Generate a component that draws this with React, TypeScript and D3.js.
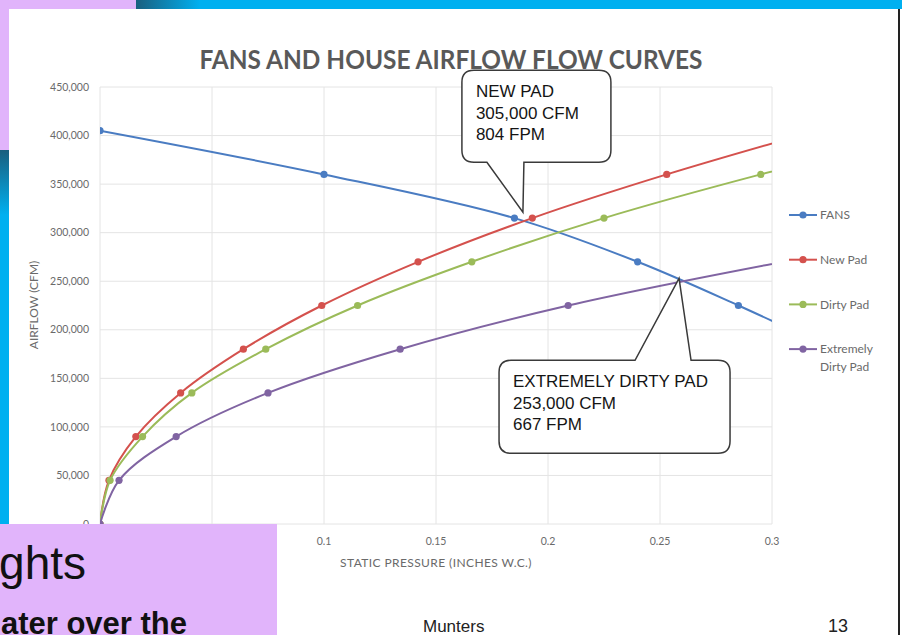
import React from 'react';
import * as d3 from 'd3';

// static pressure (inches w.c.) and airflow (cfm)
const fansPressure = [0, 0.1, 0.185, 0.24, 0.285, 0.327];
const fansAirflow = [405000, 360000, 315000, 270000, 225000, 180000];

const newPadPressure = [0, 0.004, 0.016, 0.036, 0.064, 0.099, 0.142, 0.193, 0.253, 0.32];
const newPadAirflow = [0, 45000, 90000, 135000, 180000, 225000, 270000, 315000, 360000, 405000];

const dirtyPadPressure = [0, 0.0045, 0.019, 0.041, 0.074, 0.115, 0.166, 0.225, 0.295, 0.373];
const dirtyPadAirflow = [0, 45000, 90000, 135000, 180000, 225000, 270000, 315000, 360000, 405000];

const extremePadPressure = [0, 0.0085, 0.034, 0.075, 0.134, 0.209, 0.305];
const extremePadAirflow = [0, 45000, 90000, 135000, 180000, 225000, 270000];

const seriesNames = ['FANS', 'New Pad', 'Dirty Pad', 'Extremely Dirty Pad'];
const seriesColors = ['#4a7cc2', '#d4514d', '#9bbb59', '#8064a2'];

const xTicks = [0, 0.05, 0.1, 0.15, 0.2, 0.25, 0.3];
const yTicks = [0, 50000, 100000, 150000, 200000, 250000, 300000, 350000, 400000, 450000];

const chartTitle = 'FANS AND HOUSE AIRFLOW FLOW CURVES';
const xTitle = 'STATIC PRESSURE (INCHES W.C.)';
const yTitle = 'AIRFLOW (CFM)';

// callouts: where the pointer lands (data units) and what they say
const newPadTip = { p: 0.1888, q: 321000 };
const newPadLines = ['NEW PAD', '305,000 CFM', '804 FPM'];
const extremeTip = { p: 0.2585, q: 253000 };
const extremeLines = ['EXTREMELY DIRTY PAD', '253,000 CFM', '667 FPM'];

const W = 902;
const H = 635;
const plot = { left: 100, right: 772, top: 87, bottom: 524 };
const chartFont = 'Lato, "Open Sans", sans-serif';
const calloutFont = '"Liberation Sans", Arial, sans-serif';

const series = [
  d3.zip(fansPressure, fansAirflow),
  d3.zip(newPadPressure, newPadAirflow),
  d3.zip(dirtyPadPressure, dirtyPadAirflow),
  d3.zip(extremePadPressure, extremePadAirflow),
];

// rounded box with a pointer on the bottom or top edge
function calloutPath(
  b: { x: number; y: number; w: number; h: number },
  base: [number, number],
  tip: [number, number],
  side: 'top' | 'bottom'
) {
  const r = 12;
  const { x, y, w, h } = b;
  if (side === 'bottom') {
    return `M${x + r},${y} H${x + w - r} Q${x + w},${y} ${x + w},${y + r} V${y + h - r} Q${x + w},${y + h} ${x + w - r},${y + h}
      H${base[1]} L${tip[0]},${tip[1]} L${base[0]},${y + h} H${x + r} Q${x},${y + h} ${x},${y + h - r} V${y + r} Q${x},${y} ${x + r},${y} Z`;
  }
  return `M${x + r},${y} H${base[0]} L${tip[0]},${tip[1]} L${base[1]},${y} H${x + w - r} Q${x + w},${y} ${x + w},${y + r} V${y + h - r}
    Q${x + w},${y + h} ${x + w - r},${y + h} H${x + r} Q${x},${y + h} ${x},${y + h - r} V${y + r} Q${x},${y} ${x + r},${y} Z`;
}

export default function App() {
  const x = d3.scaleLinear().domain([0, 0.3]).range([plot.left, plot.right]);
  const y = d3.scaleLinear().domain([0, 450000]).range([plot.bottom, plot.top]);
  const line = d3
    .line<[number, number]>()
    .x(d => x(d[0]))
    .y(d => y(d[1]))
    .curve(d3.curveCatmullRom.alpha(0.5));
  const fmt = d3.format(',');

  const t1: [number, number] = [x(newPadTip.p), y(newPadTip.q)];
  const box1 = { x: t1[0] - 61, y: t1[1] - 142, w: 149, h: 92 };
  const t2: [number, number] = [x(extremeTip.p), y(extremeTip.q)];
  const box2 = { x: t2[0] - 180, y: t2[1] + 82, w: 231, h: 93 };

  return (
    <svg width={W} height={H} style={{ position: 'absolute', left: 0, top: 0, background: '#fff' }}>
      <defs>
        <linearGradient id="topBar" x1="136" x2="200" y1="0" y2="0" gradientUnits="userSpaceOnUse">
          <stop offset="0" stopColor="#1a5f7e" />
          <stop offset="1" stopColor="#00b0f0" />
        </linearGradient>
        <linearGradient id="sideBar" x1="0" x2="0" y1="150" y2="215" gradientUnits="userSpaceOnUse">
          <stop offset="0" stopColor="#1a5f7e" />
          <stop offset="1" stopColor="#00b0f0" />
        </linearGradient>
        <clipPath id="plotClip">
          <rect x={plot.left} y={plot.top - 10} width={plot.right - plot.left} height={plot.bottom - plot.top + 20} />
        </clipPath>
      </defs>

      {/* slide frame */}
      <rect x={136} y={0} width={W - 136} height={9} fill="url(#topBar)" />
      <rect x={0} y={0} width={136} height={9} fill="#e1b4fb" />
      <rect x={0} y={0} width={9} height={150} fill="#e1b4fb" />
      <rect x={0} y={150} width={9} height={374} fill="url(#sideBar)" />
      <rect x={898} y={9} width={2} height={H - 9} fill="#222" />

      {/* grid */}
      {xTicks.map(t => (
        <line key={'gx' + t} x1={x(t)} x2={x(t)} y1={plot.top} y2={plot.bottom} stroke="#e4e4e4" />
      ))}
      {yTicks.map(t => (
        <line key={'gy' + t} x1={plot.left} x2={plot.right} y1={y(t)} y2={y(t)} stroke="#e4e4e4" />
      ))}

      {/* tick labels */}
      {yTicks.map(t => (
        <text key={'ly' + t} x={89} y={y(t)} dy="0.35em" textAnchor="end" fontFamily={chartFont} fontSize={10.5} fill="#6a6a6a">
          {fmt(t)}
        </text>
      ))}
      {xTicks.map(t => (
        <text key={'lx' + t} x={x(t)} y={545} textAnchor="middle" fontFamily={chartFont} fontSize={10.5} fill="#6a6a6a">
          {String(t)}
        </text>
      ))}

      <text x={451} y={69} textAnchor="middle" fontFamily={chartFont} fontWeight={700} fontSize={26} fill="#595959"
        textLength={503} lengthAdjust="spacingAndGlyphs">
        {chartTitle}
      </text>
      <text x={436} y={567} textAnchor="middle" fontFamily={chartFont} fontSize={12} letterSpacing={0.4} fill="#6a6a6a">
        {xTitle}
      </text>
      <text transform={`translate(38,305) rotate(-90)`} textAnchor="middle" fontFamily={chartFont} fontSize={12} fill="#6a6a6a">
        {yTitle}
      </text>

      {/* series */}
      <g clipPath="url(#plotClip)">
        {series.map((s, i) => (
          <g key={seriesNames[i]}>
            <path d={line(s as [number, number][]) || ''} fill="none" stroke={seriesColors[i]} strokeWidth={2} />
            {s.filter(d => d[0] <= 0.3).map((d, j) => (
              <circle key={j} cx={x(d[0])} cy={y(d[1])} r={3.6} fill={seriesColors[i]} />
            ))}
          </g>
        ))}
      </g>

      {/* legend */}
      {seriesNames.map((name, i) => {
        const ly = 215 + i * 44.7;
        const words = i === 3 ? ['Extremely', 'Dirty Pad'] : [name];
        return (
          <g key={'lg' + name}>
            <line x1={789} x2={817} y1={ly} y2={ly} stroke={seriesColors[i]} strokeWidth={2} />
            <circle cx={803} cy={ly} r={3.6} fill={seriesColors[i]} />
            {words.map((w, k) => (
              <text key={w} x={820} y={ly + k * 17.5} dy="0.35em" fontFamily={chartFont} fontSize={12} fill="#6a6a6a">
                {w}
              </text>
            ))}
          </g>
        );
      })}

      {/* callouts */}
      <path d={calloutPath(box1, [box1.x + 25, box1.x + 62], t1, 'bottom')} fill="#fff" stroke="#3a3a3a" strokeWidth={1.5} />
      {newPadLines.map((s, i) => (
        <text key={s} x={box1.x + 14} y={box1.y + 27 + i * 21.5} fontFamily={calloutFont} fontSize={17} fill="#151515">
          {s}
        </text>
      ))}
      <path d={calloutPath(box2, [box2.x + 136, box2.x + 192], t2, 'top')} fill="#fff" stroke="#3a3a3a" strokeWidth={1.5} />
      {extremeLines.map((s, i) => (
        <text key={s} x={box2.x + 14} y={box2.y + 27 + i * 21.5} fontFamily={calloutFont} fontSize={17} fill="#151515">
          {s}
        </text>
      ))}

      {/* overlapping slide panel and footer */}
      <rect x={0} y={524} width={277} height={H - 524} fill="#e1b4fb" />
      <text x={86} y={579} textAnchor="end" fontFamily={calloutFont} fontSize={46} fill="#111">
        ghts
      </text>
      <text x={187} y={634} textAnchor="end" fontFamily={calloutFont} fontWeight={700} fontSize={31} fill="#111">
        ater over the
      </text>
      <text x={423} y={632} fontFamily={calloutFont} fontSize={17} fill="#222">
        Munters
      </text>
      <text x={828} y={632} fontFamily={calloutFont} fontSize={18} fill="#222">
        13
      </text>
    </svg>
  );
}
